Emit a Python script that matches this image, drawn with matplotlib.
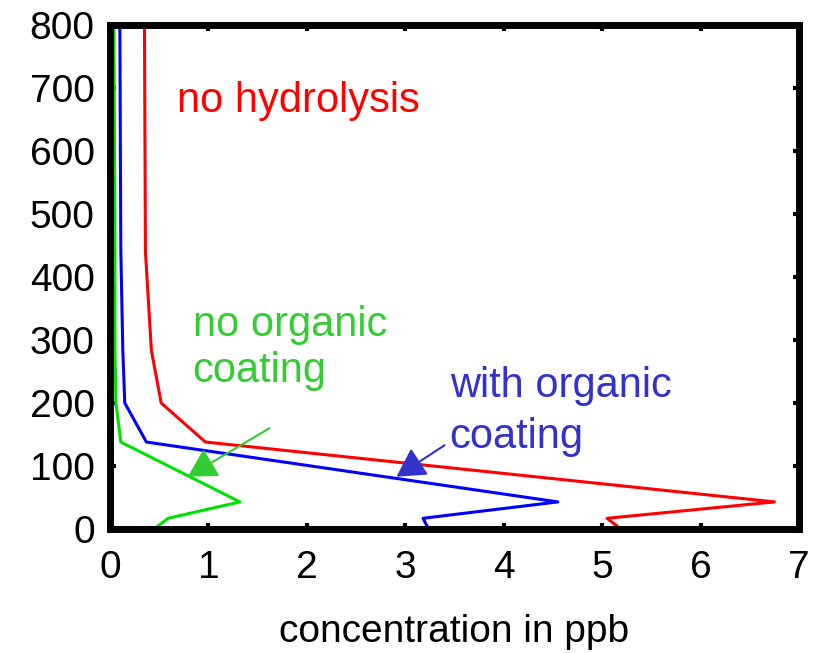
import matplotlib.pyplot as plt

plt.rcParams['font.family'] = ['Liberation Sans', 'DejaVu Sans']

# altitude levels (m) and concentrations (ppb)
altitude = [5, 17, 43, 138, 200, 284, 440, 800]
no_hydrolysis = [5.15, 5.05, 6.75, 0.97, 0.52, 0.42, 0.36, 0.35]
with_coating = [3.22, 3.18, 4.55, 0.37, 0.15, 0.13, 0.11, 0.10]
no_coating = [0.49, 0.59, 1.32, 0.11, 0.06, 0.05, 0.05, 0.04]

x_ticks = [0, 1, 2, 3, 4, 5, 6, 7]
y_ticks = [0, 100, 200, 300, 400, 500, 600, 700, 800]

fig = plt.figure(figsize=(8.29, 6.53), dpi=100)
ax = fig.add_axes([0.1327, 0.1899, 0.8311, 0.7718])

ax.plot(no_hydrolysis, altitude, color='#ff0000', lw=2.2)
ax.plot(with_coating, altitude, color='#0000ff', lw=2.2)
ax.plot(no_coating, altitude, color='#00e000', lw=2.2)

ax.set_xlim(0, 7)
ax.set_ylim(0, 800)
ax.set_xticks(x_ticks)
ax.set_yticks(y_ticks)
ax.tick_params(direction='in', top=True, right=True, length=4, width=3,
               labelsize=28, pad=11)
ax.tick_params(axis='x', pad=15)
for s in ax.spines.values():
    s.set_linewidth(5)

ax.set_xlabel('concentration in ppb', fontsize=28, labelpad=20)

red_txt = '#ff0000'
green_txt = '#33cc33'
blue_txt = '#3333cc'

ax.text(0.68, 662, 'no hydrolysis', color=red_txt, fontsize=30, va='baseline')

ax.text(0.84, 306, 'no organic', color=green_txt, fontsize=30, va='baseline')
ax.text(0.84, 233, 'coating', color=green_txt, fontsize=30, va='baseline')
ax.annotate('', xy=(0.79, 83), xytext=(1.62, 160),
            arrowprops=dict(arrowstyle='-|>,head_length=0.8,head_width=0.45',
                            mutation_scale=22, color='#33cc33', lw=1.5,
                            shrinkA=0, shrinkB=0))

ax.text(3.45, 209, 'with organic', color=blue_txt, fontsize=30, va='baseline')
ax.text(3.45, 128, 'coating', color=blue_txt, fontsize=30, va='baseline')
ax.annotate('', xy=(2.91, 83), xytext=(3.40, 133),
            arrowprops=dict(arrowstyle='-|>,head_length=0.8,head_width=0.45',
                            mutation_scale=22, color='#3333cc', lw=1.5,
                            shrinkA=0, shrinkB=0))

fig.savefig('out.png', dpi=100)
